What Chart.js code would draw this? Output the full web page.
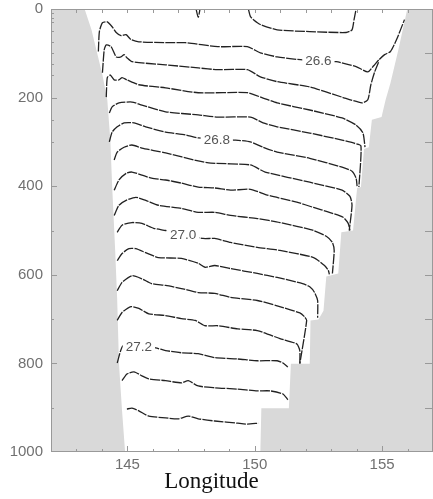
<!DOCTYPE html>
<html>
<head>
<meta charset="utf-8">
<script src="https://cdn.jsdelivr.net/npm/chart.js@4.4.1/dist/chart.umd.min.js"></script>
<style>
body { margin: 0; background: #fff; }
canvas { display: block; }
</style>
</head>
<body>
<canvas id="chartSection" width="433" height="499"></canvas>
<script>
// density section, contours every 0.05 (lon, depth m)
var c2655 = [[149.75,0],[149.83,17],[149.95,24],[150.22,35],[150.88,47],[152.16,51],[153.59,53],[153.82,47],[153.90,24],[153.98,0]];
var c2655b = [[147.70,1],[147.78,19],[147.85,1]];
var c2660 = [[143.86,96],[143.90,51],[144.02,31],[144.21,29],[144.40,40],[144.56,53],[144.75,60],[144.95,58],[145.14,69],[145.45,74],[146.50,76],[147.27,76],[148.55,85],[149.71,85],[150.22,99],[150.88,108],[151.88,115],[153.20,119],[153.98,130],[154.44,142],[154.67,128],[154.87,115],[155.10,103],[155.33,96],[155.57,69],[155.88,24]];
var c2665 = [[144.02,144],[144.09,92],[144.17,81],[144.36,85],[144.56,108],[144.75,108],[144.87,103],[144.98,110],[145.18,119],[146.50,126],[147.78,133],[148.55,137],[149.71,137],[150.22,153],[150.88,164],[152.16,176],[153.43,199],[154.21,212],[154.44,205],[154.56,171],[154.71,142],[154.87,119]];
var c2670 = [[144.17,199],[144.21,155],[144.33,149],[144.48,160],[144.67,160],[144.79,155],[144.98,160],[145.45,171],[146.50,178],[147.78,189],[149.71,189],[150.33,201],[150.88,212],[152.16,228],[153.43,246],[153.98,262],[154.25,280],[154.33,312]];
var c2675 = [[144.29,235],[144.40,221],[144.67,212],[145.18,210],[145.57,217],[146.50,232],[147.78,239],[148.55,244],[149.83,244],[150.33,257],[150.88,266],[152.16,280],[153.43,296],[153.90,303],[154.17,309],[154.09,402]];
var c2680 = [[144.29,300],[144.40,278],[144.60,266],[144.87,257],[145.26,257],[145.72,266],[146.50,278],[147.27,284],[147.78,291],[149.25,296],[149.83,300],[150.33,312],[150.88,323],[152.16,337],[153.43,357],[153.82,366],[153.98,382],[154.02,400]];
var c2685 = [[144.48,341],[144.60,323],[144.87,312],[145.18,307],[145.57,314],[146.50,325],[147.78,343],[148.28,348],[149.83,352],[150.41,368],[152.16,391],[153.43,409],[153.74,423],[153.82,443],[153.71,500]];
var c2690 = [[144.48,409],[144.67,386],[144.95,371],[145.18,368],[145.57,375],[145.95,382],[146.50,386],[147.12,393],[147.78,402],[148.43,404],[149.05,409],[149.83,407],[150.49,420],[151.65,436],[152.31,448],[152.93,459],[153.47,470],[153.67,484],[153.74,500]];
var c2695 = [[144.48,466],[144.67,443],[144.95,432],[145.33,425],[145.72,432],[146.22,443],[147.12,450],[147.78,459],[148.43,459],[149.05,466],[150.10,473],[150.99,482],[152.31,500],[152.81,513],[153.05,527],[153.12,545],[153.05,597]];
var c2700 = [[144.60,504],[144.79,488],[145.18,482],[145.57,484],[146.03,495],[146.50,500],[147.97,518],[148.43,518],[149.05,527],[150.10,538],[150.99,545],[152.31,561],[152.74,579],[152.89,590],[152.93,599]];
var c2705 = [[144.60,568],[144.79,552],[145.06,541],[145.33,541],[145.72,550],[146.22,561],[147.12,563],[147.78,574],[148.05,583],[148.43,579],[149.05,586],[150.10,597],[150.88,606],[151.88,620],[152.16,627],[152.35,640],[152.47,658],[152.47,697]];
var c2710 = [[144.60,636],[144.79,617],[145.18,602],[145.57,609],[145.95,620],[146.50,624],[147.12,631],[147.78,640],[148.43,642],[149.05,651],[150.10,658],[150.88,670],[151.77,686],[151.96,695],[152.04,703],[151.77,801]];
var c2715 = [[144.60,703],[144.79,685],[145.14,672],[145.45,676],[145.84,688],[146.50,692],[147.12,699],[147.66,703],[148.05,715],[148.55,715],[149.33,722],[150.10,726],[150.99,744],[151.65,756],[151.77,771],[151.77,799]];
var c2720 = [[144.60,799],[144.83,760],[145.45,760],[146.11,765],[146.50,771],[147.12,776],[147.78,778],[148.43,787],[149.33,790],[150.10,794],[150.88,794],[151.11,799],[151.30,808]];
var c2725 = [[144.79,839],[144.98,824],[145.26,819],[145.57,828],[145.84,835],[146.50,839],[147.12,844],[147.39,839],[147.78,851],[148.43,855],[149.33,858],[150.10,862],[150.60,862],[151.11,869],[151.30,882]];
var c2730 = [[144.98,903],[145.18,901],[145.45,907],[145.84,919],[146.50,923],[147.00,925],[147.39,919],[147.78,925],[148.43,930],[149.33,935],[149.71,937],[150.14,935]];

var westLand = [[142,0],[143.32,0],[143.59,47],[143.78,92],[144.02,149],[144.21,205],[144.33,296],[144.40,398],[144.52,545],[144.60,658],[144.67,801],[144.79,907],[144.91,1000],[142,1000]];
var eastLand = [[157,0],[155.99,0],[155.64,92],[155.33,167],[155.14,205],[154.98,244],[154.60,250],[154.48,312],[154.29,316],[154.17,402],[154.02,404],[153.86,500],[153.40,504],[153.28,597],[152.81,604],[152.70,681],[152.50,701],[152.19,703],[152.16,801],[151.42,801],[151.34,901],[150.26,901],[150.22,1000],[157,1000]];

var labelText  = ['26.6', '26.8', '27.0', '27.2'];
var labelLon   = [152.50, 148.51, 147.19, 145.45];
var labelDepth = [117, 296, 511, 764];

var lonTicks  = [143, 144, 145, 146, 147, 148, 149, 150, 151, 152, 153, 154, 155, 156];
var lonLabels = [145, 150, 155];
var depthTicksLeft  = [10, 20, 30, 50, 75, 100, 125, 150, 200, 250, 300, 400, 500, 600, 700, 800, 900];
var depthTicksRight = [100, 200, 300, 400, 500, 600, 700, 800, 900];
var depthLabels = [0, 200, 400, 600, 800, 1000];

var contours = [c2655, c2655b, c2660, c2665, c2670, c2675, c2680, c2685, c2690, c2695,
                c2700, c2705, c2710, c2715, c2720, c2725, c2730];

function toPoints(pairs) {
    return pairs.map(function(p) { return {x: p[0], y: p[1]}; });
}

var overlay = {
    id: 'overlay',
    afterDatasetsDraw: function(chart) {
        var ctx = chart.ctx, a = chart.chartArea;
        var x = chart.scales.x, y = chart.scales.y;
        ctx.save();

        // contour labels
        ctx.font = '13.5px "Liberation Sans", Arial, sans-serif';
        ctx.textAlign = 'center';
        ctx.textBaseline = 'middle';
        for (var i = 0; i < labelText.length; i++) {
            var px = x.getPixelForValue(labelLon[i]);
            var py = y.getPixelForValue(labelDepth[i]);
            var w = ctx.measureText(labelText[i]).width + 6;
            ctx.fillStyle = '#fff';
            ctx.fillRect(px - w / 2, py - 7, w, 14);
            ctx.fillStyle = '#555';
            ctx.fillText(labelText[i], px, py);
        }

        // frame + inward ticks
        ctx.strokeStyle = '#999';
        ctx.lineWidth = 1;
        ctx.strokeRect(a.left + 0.5, a.top + 0.5, a.right - a.left - 1, a.bottom - a.top - 1);
        ctx.beginPath();
        lonTicks.forEach(function(v) {
            var px = Math.round(x.getPixelForValue(v)) + 0.5;
            var len = lonLabels.indexOf(v) >= 0 ? 6 : 3;
            ctx.moveTo(px, a.bottom); ctx.lineTo(px, a.bottom - len);
            ctx.moveTo(px, a.top); ctx.lineTo(px, a.top + 4);
        });
        depthTicksLeft.forEach(function(v) {
            var py = Math.round(y.getPixelForValue(v)) + 0.5;
            var len = depthLabels.indexOf(v) >= 0 ? 6 : 3;
            ctx.moveTo(a.left, py); ctx.lineTo(a.left + len, py);
        });
        depthTicksRight.forEach(function(v) {
            var py = Math.round(y.getPixelForValue(v)) + 0.5;
            ctx.moveTo(a.right, py); ctx.lineTo(a.right - 8, py);
        });
        ctx.stroke();

        // axis title
        ctx.font = '23px "Liberation Serif", "Times New Roman", serif';
        ctx.fillStyle = '#111';
        ctx.textAlign = 'center';
        ctx.textBaseline = 'alphabetic';
        ctx.fillText('Longitude', a.left + (a.right - a.left) * 0.42, 488);
        ctx.restore();
    }
};

function drawSection() {
    var datasets = [];
    [westLand, eastLand].forEach(function(land) {
        datasets.push({
            data: toPoints(land),
            fill: 'shape',
            backgroundColor: '#d9d9d9',
            borderWidth: 0,
            tension: 0,
            order: 2
        });
    });
    contours.forEach(function(line) {
        datasets.push({
            data: toPoints(line),
            fill: false,
            borderColor: '#222',
            borderWidth: 1.3,
            borderDash: [10, 1.2],
            tension: 0.2,
            order: 1
        });
    });

    var tickFont = { family: '"Liberation Sans", Arial, sans-serif', size: 15 };
    new Chart(document.getElementById('chartSection'), {
        type: 'line',
        data: { datasets: datasets },
        options: {
            responsive: false,
            animation: false,
            devicePixelRatio: 1,
            events: [],
            layout: { padding: { top: 9, right: -4, left: 0, bottom: 0 } },
            elements: { point: { radius: 0 } },
            plugins: { legend: { display: false }, tooltip: { enabled: false } },
            scales: {
                x: {
                    type: 'linear', min: 142, max: 157,
                    grid: { display: false, drawTicks: false },
                    border: { display: false },
                    ticks: {
                        stepSize: 1, autoSkip: false, maxRotation: 0, padding: 4,
                        color: '#707070', font: tickFont,
                        callback: function(v) { return lonLabels.indexOf(v) >= 0 ? String(v) : ''; }
                    },
                    afterFit: function(s) { s.height = 47; s.paddingLeft = 0; s.paddingRight = 0; }
                },
                y: {
                    type: 'linear', reverse: true, min: 0, max: 1000,
                    grid: { display: false, drawTicks: false },
                    border: { display: false },
                    ticks: {
                        stepSize: 200, padding: 8, color: '#707070', font: tickFont,
                        callback: function(v) { return depthLabels.indexOf(v) >= 0 ? String(v) : ''; }
                    },
                    afterFit: function(s) { s.width = 51; s.paddingTop = 0; s.paddingBottom = 0; }
                }
            }
        },
        plugins: [overlay]
    });
}

drawSection();
</script>
</body>
</html>
